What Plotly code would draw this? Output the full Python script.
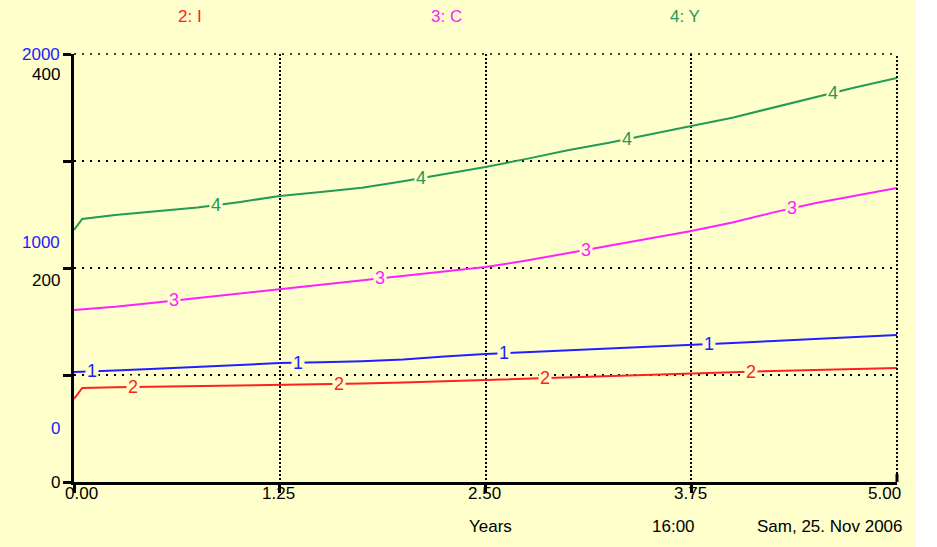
import numpy as np
import plotly.graph_objects as go

# time axis (years)
time = [0, 0.05, 0.25, 0.5, 0.75, 1.0, 1.25, 1.5, 1.75, 2.0, 2.25, 2.5,
        2.75, 3.0, 3.25, 3.5, 3.75, 4.0, 4.25, 4.5, 4.75, 5.0]

# 1: K  (blue scale 0-2000)
k_vals = [514, 515, 521, 529, 538, 547, 556, 560, 564, 572, 587, 598,
          606, 614, 623, 631, 640, 649, 659, 668, 678, 687]
# 2: I  (black scale 0-400)
i_vals = [77.6, 87.9, 88.5, 89.0, 89.6, 90.1, 90.7, 91.3, 92.0, 93.0, 94.2, 95.3,
          96.6, 97.9, 99.2, 100.6, 101.9, 102.8, 103.8, 104.7, 105.6, 106.5]
# 3: C
c_vals = [160.7, 161.3, 163.7, 167.8, 172.0, 176.3, 180.4, 184.5, 188.8, 193.0, 197.0, 200.9,
          207.0, 214.0, 220.5, 227.5, 234.6, 242.5, 252.0, 260.5, 267.5, 274.8]
# 4: Y
y_vals = [235.5, 245.8, 249.5, 253.0, 256.5, 261.5, 267.3, 271.0, 275.0, 281.0, 287.5, 294.4,
          302.0, 310.0, 317.0, 324.5, 332.7, 340.5, 350.0, 360.0, 369.0, 377.6]

x_ticks = [0, 1.25, 2.5, 3.75, 5.0]
x_ticktext = ["0.00", "1.25", "2.50", "3.75", "5.00"]
black_ticks = ["0", "200", "400"]
blue_ticks = ["0", "1000", "2000"]

bg = "#FFFFCC"
font = "Liberation Sans"
fs = 17
col = {"1": "#2020FF", "2": "#FF2020", "3": "#FF20FF", "4": "#239A55"}

series = {
    "1": (k_vals, "y2", 0.11),
    "2": (i_vals, "y", 0.36),
    "3": (c_vals, "y", 0.61),
    "4": (y_vals, "y", 0.86),
}

H = 428.0
W = 823.0

fig = go.Figure()
for num, (vals, ax, off) in series.items():
    fig.add_trace(go.Scatter(x=time, y=vals, mode="lines", yaxis=ax,
                             line=dict(color=col[num], width=2), hoverinfo="skip"))

# numbered labels sitting on the lines
for num, (vals, ax, off) in series.items():
    for j in range(4):
        t = off + 1.25 * j
        fig.add_annotation(x=t, y=float(np.interp(t, time, vals)), xref="x", yref=ax,
                           text=num, showarrow=False, bgcolor=bg, borderpad=1,
                           xanchor="center", yanchor="middle",
                           font=dict(family=font, size=fs + 1, color=col[num]))

# top legend
for t, txt, num in [(0.705, "2: I", "2"), (2.266, "3: C", "3"), (3.712, "4: Y", "4")]:
    fig.add_annotation(x=t, y=(482 - 17) / H, xref="x", yref="paper", text=txt, showarrow=False,
                       yanchor="middle", font=dict(family=font, size=fs, color=col[num]))

# left scale labels
for txt, py in zip(black_ticks, [482, 280, 74]):
    fig.add_annotation(x=-13 / W, y=(482 - py) / H, xref="paper", yref="paper", text=txt,
                       showarrow=False, xanchor="right", yanchor="middle", height=15, borderpad=0,
                       font=dict(family=font, size=fs, color="black"))
for txt, py in zip(blue_ticks, [428, 242, 54]):
    fig.add_annotation(x=-13 / W, y=(482 - py) / H, xref="paper", yref="paper", text=txt,
                       showarrow=False, xanchor="right", yanchor="middle", height=15, borderpad=0,
                       font=dict(family=font, size=fs, color="#2020FF"))

# x tick labels
for t, txt in zip(x_ticks, x_ticktext):
    fig.add_annotation(x=t, y=-11 / H, xref="x", yref="paper", text=txt, showarrow=False,
                       xanchor="right" if t == 5.0 else "center",
                       xshift=6 if t == 5.0 else (7 if t == 0 else -1), yanchor="middle",
                       font=dict(family=font, size=fs, color="black"))

# footer
fig.add_annotation(x=(490 - 74) / W, y=-44 / H, xref="paper", yref="paper", text="Years",
                   showarrow=False, yanchor="middle", font=dict(family=font, size=fs, color="black"))
fig.add_annotation(x=(697 - 74) / W, y=-44 / H, xref="paper", yref="paper", text="16:00",
                   showarrow=False, yanchor="middle", font=dict(family=font, size=fs, color="black"))
fig.add_annotation(x=(905 - 74) / W, y=-44 / H, xref="paper", yref="paper", text="Sam, 25. Nov 2006",
                   showarrow=False, xanchor="right", yanchor="middle",
                   font=dict(family=font, size=fs, color="black"))

# yellow panel, dotted top/right border, small end tick
fig.add_shape(type="rect", xref="paper", yref="paper", x0=-74 / W, x1=(916 - 74) / W,
              y0=-70 / H, y1=1 + 60 / H, fillcolor=bg, line_width=0, layer="below")
fig.add_shape(type="line", xref="paper", yref="paper", x0=0, x1=1, y0=1, y1=1,
              line=dict(color="black", width=1.5, dash="2px,6px"))
fig.add_shape(type="line", xref="paper", yref="paper", x0=1, x1=1, y0=0, y1=1,
              line=dict(color="black", width=2, dash="2px,2px"))
fig.add_shape(type="line", xref="paper", yref="paper", x0=1, x1=1, y0=0, y1=8 / H,
              line=dict(color="black", width=3))

fig.update_layout(
    width=937, height=547,
    margin=dict(l=74, r=40, t=54, b=65),
    paper_bgcolor="white", plot_bgcolor="rgba(0,0,0,0)",
    showlegend=False,
    font=dict(family=font, size=fs, color="black"),
    xaxis=dict(range=[0, 5], tickvals=x_ticks[:-1], showticklabels=False, showgrid=True,
               gridcolor="black", griddash="2px,2px", gridwidth=2,
               showline=True, linecolor="black", linewidth=3, ticks="outside",
               ticklen=8, tickwidth=3, tickcolor="black", zeroline=False),
    yaxis=dict(range=[0, 400], tickvals=[0, 100, 200, 300, 400], showticklabels=False,
               showgrid=True, gridcolor="black", griddash="2px,6px", gridwidth=1.5,
               showline=True, linecolor="black", linewidth=3, ticks="outside",
               ticklen=8, tickwidth=3, tickcolor="black", zeroline=False),
    yaxis2=dict(range=[0, 2000], overlaying="y", visible=False),
)

fig.write_html("out.html", config={"displayModeBar": False},
               post_script="document.body.style.margin='0';")
